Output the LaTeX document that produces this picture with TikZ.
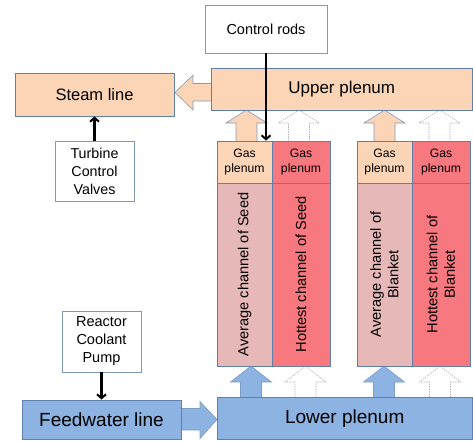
\documentclass[tikz,border=0pt]{standalone}
\usepackage{fontspec}
\setmainfont{Liberation Sans}
\usetikzlibrary{arrows.meta,calc}
\definecolor{peach}{HTML}{FBD5B5}
\definecolor{pinkc}{HTML}{E6B9B8}
\definecolor{redc}{HTML}{F8787F}
\definecolor{bluec}{HTML}{8DB3E2}
\definecolor{edgec}{HTML}{5F7FAD}
\definecolor{arrowedge}{HTML}{7F9CC4}
\tikzset{
  box/.style={draw=edgec, line width=0.8pt, inner sep=1pt, align=center},
  wbox/.style={box, fill=white, draw=edgec!80},
  pbox/.style={box, fill=peach},
  bbox/.style={box, fill=bluec},
  avgbox/.style={box, fill=pinkc},
  hotbox/.style={box, fill=redc},
  blockp/.style={fill=peach, draw=arrowedge, line width=0.6pt},
  blockb/.style={fill=bluec, draw=arrowedge, line width=0.6pt},
  blockd/.style={fill=white, draw=gray!60, line width=0.6pt, dash pattern=on 1.5pt off 1pt},
  ctrl/.style={line width=2.4pt, -{Straight Barb[length=4pt,width=9pt,line width=2pt]}}
}
\newcommand{\uparr}[5]{% style, center x, tip y, head base y, base y
  \draw[#1] (#2,#3) -- (#2+20.5,#4) -- (#2+10.5,#4) -- (#2+10.5,#5) -- (#2-10.5,#5) -- (#2-10.5,#4) -- (#2-20.5,#4) -- cycle;}
\begin{document}
\begin{tikzpicture}[x=1pt,y=-1pt]
\useasboundingbox (0,0) rectangle (473,440);
% block arrows (behind)
\draw[blockp] (175,92.5) -- (193,75) -- (193,83.5) -- (212,83.5) -- (212,101) -- (193,101) -- (193,110) -- cycle;
\draw[blockb] (217,419.5) -- (200,401.5) -- (200,408.5) -- (180,408.5) -- (180,430) -- (200,430) -- (200,438.5) -- cycle;
\uparr{blockp}{246.5}{110}{123}{141.5}
\uparr{blockd}{299}{110}{123}{141.5}
\uparr{blockp}{384.5}{110}{123}{141.5}
\uparr{blockd}{439.5}{110}{123}{141.5}
\uparr{blockb}{251}{366}{382}{397.5}
\uparr{blockd}{305.5}{366}{382}{397.5}
\uparr{blockb}{384}{366}{382}{397.5}
\uparr{blockd}{440}{366}{382}{397.5}
% nodes
\node[wbox, minimum width=122pt, minimum height=48pt, font=\fontsize{14.5}{17}\selectfont] (cr) at (266,29) {Control rods};
\node[pbox, minimum width=261pt, minimum height=42pt, font=\fontsize{17}{20}\selectfont] (up) at (341.75,89) {Upper plenum};
\node[pbox, minimum width=159pt, minimum height=43pt, font=\fontsize{16.5}{19}\selectfont] (sl) at (94.5,94.5) {Steam line};
\node[wbox, minimum width=79pt, minimum height=60pt, font=\fontsize{14.3}{18}\selectfont] (tcv) at (94.5,171) {Turbine\\Control\\Valves};
\node[pbox, minimum width=55pt, minimum height=42pt, font=\fontsize{12.2}{15}\selectfont] (gsa) at (244.5,162) {Gas\\plenum};
\node[hotbox, minimum width=58pt, minimum height=42pt, font=\fontsize{12.2}{15}\selectfont] (gsh) at (301,162) {Gas\\plenum};
\node[pbox, minimum width=55pt, minimum height=42pt, font=\fontsize{12.2}{15}\selectfont] (gba) at (384.5,162) {Gas\\plenum};
\node[hotbox, minimum width=58pt, minimum height=42pt, font=\fontsize{12.2}{15}\selectfont] (gbh) at (441,162) {Gas\\plenum};
\node[avgbox, minimum width=55pt, minimum height=183pt] (csa) at (244.5,274.5) {};
\node[hotbox, minimum width=58pt, minimum height=183pt] (csh) at (301,274.5) {};
\node[avgbox, minimum width=55pt, minimum height=183pt] (cba) at (384.5,274.5) {};
\node[hotbox, minimum width=58pt, minimum height=183pt] (cbh) at (441,274.5) {};
\node[rotate=90, align=center, font=\fontsize{14.6}{17.5}\selectfont] (tsa) at (csa) {Average channel of Seed};
\node[rotate=90, align=center, font=\fontsize{14.6}{17.5}\selectfont] (tsh) at (csh) {Hottest channel of Seed};
\node[rotate=90, align=center, font=\fontsize{14.6}{17.5}\selectfont] (tba) at (cba) {Average channel of\\Blanket};
\node[rotate=90, align=center, font=\fontsize{14.6}{17.5}\selectfont] (tbh) at (cbh) {Hottest channel of\\Blanket};
\node[bbox, minimum width=255.5pt, minimum height=42.5pt, font=\fontsize{19}{22}\selectfont] (lp) at (344.75,418.25) {Lower plenum};
\node[bbox, minimum width=159pt, minimum height=39.5pt, font=\fontsize{19}{22}\selectfont] (fw) at (101.5,419.75) {Feedwater line};
\node[wbox, minimum width=79pt, minimum height=61pt, font=\fontsize{14.5}{18}\selectfont] (rcp) at (101.5,341.5) {Reactor\\Coolant\\Pump};
% control connectors
\draw[ctrl] (tcv.north) -- (sl.south);
\draw[ctrl] (cr.south) -- (cr.south |- gsa.north);
\draw[ctrl] (rcp.south) -- (fw.north);
\end{tikzpicture}
\end{document}
